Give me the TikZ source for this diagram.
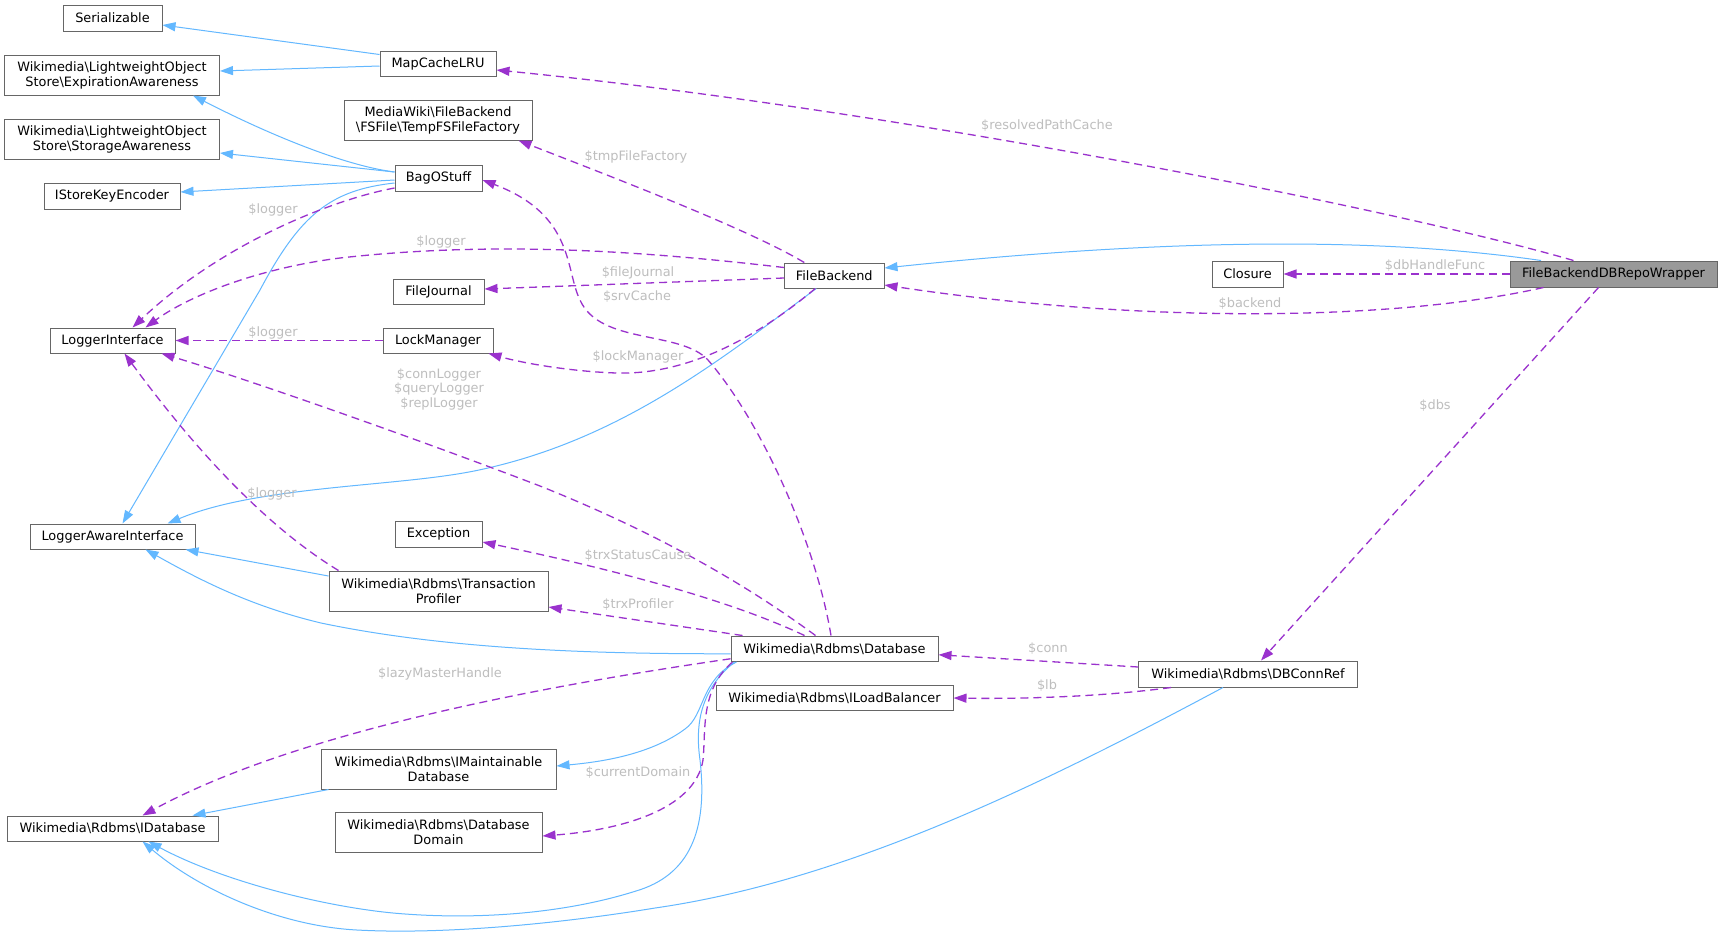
\documentclass[tikz,border=0pt]{standalone}
\usepackage{fontspec}
\setmainfont{DejaVu Sans}
\usetikzlibrary{arrows.meta,calc}
\definecolor{inhblue}{HTML}{63B8FF}
\definecolor{usepurple}{HTML}{9A32CD}
\definecolor{nodeborder}{HTML}{666666}
\definecolor{labelgray}{HTML}{BEBEBE}
\definecolor{mainfill}{HTML}{999999}
\newcommand{\BSl}{\textbackslash{}}
\begin{document}
\begin{tikzpicture}[x=1pt,y=-1pt,
  cls/.style={draw=nodeborder, line width=1pt, fill=white, inner sep=0pt, align=center,
    font=\fontsize{12.9}{15}\selectfont},
  inh/.style={draw=inhblue, line width=1pt, -{Triangle[length=13pt,width=9pt]}},
  use/.style={draw=usepurple, line width=1.3pt, dash pattern=on 8pt off 5pt,
    -{Triangle[length=13pt,width=9pt]}},
  lbl/.style={text=labelgray, inner sep=0pt, align=center,
    font=\fontsize{12.9}{14.5}\selectfont}
]
\fill[white] (0,0) rectangle (1723,938);
\useasboundingbox (0,0) rectangle (1723,938);

% nodes
\node[cls, minimum width=99pt, minimum height=26pt] (ser) at (112.5,18) {Serializable};
\node[cls, minimum width=215pt, minimum height=40pt] (expaw) at (112,75) {Wikimedia\BSl LightweightObject\\Store\BSl ExpirationAwareness};
\node[cls, minimum width=215pt, minimum height=40pt] (stoaw) at (112,139) {Wikimedia\BSl LightweightObject\\Store\BSl StorageAwareness};
\node[cls, minimum width=136pt, minimum height=26pt] (iske) at (112,196) {IStoreKeyEncoder};
\node[cls, minimum width=116pt, minimum height=25pt] (mapc) at (438,63.5) {MapCacheLRU};
\node[cls, minimum width=188pt, minimum height=40pt] (tmpfs) at (438,120) {MediaWiki\BSl FileBackend\\\BSl FSFile\BSl TempFSFileFactory};
\node[cls, minimum width=87pt, minimum height=26pt] (bag) at (438.5,178) {BagOStuff};
\node[cls, minimum width=125pt, minimum height=25pt] (logi) at (112.5,340.5) {LoggerInterface};
\node[cls, minimum width=91pt, minimum height=25pt] (fj) at (438.5,291.5) {FileJournal};
\node[cls, minimum width=110pt, minimum height=25pt] (lockm) at (438,340.5) {LockManager};
\node[cls, minimum width=165pt, minimum height=25pt] (lawi) at (112.5,536.5) {LoggerAwareInterface};
\node[cls, minimum width=87pt, minimum height=26pt] (exc) at (438.5,534) {Exception};
\node[cls, minimum width=219pt, minimum height=40pt] (tp) at (438.5,591) {Wikimedia\BSl Rdbms\BSl Transaction\\Profiler};
\node[cls, minimum width=235pt, minimum height=40pt] (imd) at (438.5,769) {Wikimedia\BSl Rdbms\BSl IMaintainable\\Database};
\node[cls, minimum width=211pt, minimum height=25pt] (idb) at (112.5,828.5) {Wikimedia\BSl Rdbms\BSl IDatabase};
\node[cls, minimum width=207pt, minimum height=40pt] (dbd) at (438.5,832) {Wikimedia\BSl Rdbms\BSl Database\\Domain};
\node[cls, minimum width=99.5pt, minimum height=25pt] (fb) at (834.25,275.5) {FileBackend};
\node[cls, minimum width=207pt, minimum height=25.5pt] (db) at (834.5,648.75) {Wikimedia\BSl Rdbms\BSl Database};
\node[cls, minimum width=237pt, minimum height=25.5pt] (ilb) at (834.5,698) {Wikimedia\BSl Rdbms\BSl ILoadBalancer};
\node[cls, minimum width=71pt, minimum height=26pt] (closure) at (1247.5,274) {Closure};
\node[cls, fill=mainfill, minimum width=207pt, minimum height=26pt] (wrap) at (1613.5,274) {FileBackendDBRepoWrapper};
\node[cls, minimum width=218.5pt, minimum height=26pt] (dbconn) at (1248,674) {Wikimedia\BSl Rdbms\BSl DBConnRef};

% inheritance edges
\draw[inh] ([yshift=9pt]mapc.west) -- ([yshift=-7pt]ser.east);
\draw[inh] ([yshift=-2.5pt]mapc.west) -- ([yshift=4pt]expaw.east);
\draw[inh] ([yshift=6pt]bag.west) .. controls (340,165) and (260,130) .. ([xshift=81pt]expaw.south);
\draw[inh] ([yshift=6pt]bag.west) -- ([yshift=-14pt]stoaw.east);
\draw[inh] ([yshift=-2pt]bag.west) -- ([yshift=4pt]iske.east);
\draw[inh] ([yshift=-5pt]bag.west) .. controls (330,190) and (300,215) .. (260,290) -- ([xshift=10pt]lawi.north);
\draw[inh] ([xshift=-18pt]fb.south) .. controls (720,360) and (620,440) .. (479,470)
   .. controls (400,487) and (260,485) .. ([xshift=55pt]lawi.north);
\draw[inh] ([yshift=15pt]tp.west) -- ([xshift=-10pt]lawi.south east);
\draw[inh] ([yshift=-5pt]db.west) .. controls (600,654) and (450,650) .. (321,623)
   .. controls (250,606) and (200,580) .. ([xshift=33pt]lawi.south);
\draw[inh] ([xshift=6pt]db.south west) .. controls (700,680) and (705,715) .. (685,729)
   .. controls (650,755) and (600,762) .. ([yshift=3pt]imd.east);
\draw[inh] ([xshift=8pt]imd.south west) -- ([xshift=80pt]idb.north);
\draw[inh] ([xshift=4pt]db.south west) .. controls (700,690) and (695,725) .. (700,760)
   .. controls (708,830) and (690,875) .. (636,891)
   .. controls (560,915) and (470,920) .. (393,913)
   .. controls (320,906) and (220,880) .. ([xshift=36pt]idb.south);
\draw[inh] ([xshift=-25pt]dbconn.south) .. controls (1050,780) and (850,880) .. (655,908)
   .. controls (570,922) and (450,935) .. (357,930)
   .. controls (280,926) and (200,890) .. ([xshift=30pt]idb.south);
\draw[inh] ([xshift=-72.5pt]wrap.north) .. controls (1400,240) and (1200,235) .. ([yshift=7.5pt]fb.east);

% usage edges
\draw[use] ([xshift=-40pt]wrap.north) .. controls (1400,210) and (900,110) .. ([yshift=-6.5pt]mapc.east);
\draw[use] ([xshift=-30pt]fb.north) .. controls (750,230) and (620,180) .. ([xshift=-14pt]tmpfs.south east);
\draw[use] ([xshift=-3.5pt]db.north) .. controls (815,540) and (760,420) .. (708,360)
   .. controls (680,330) and (600,345) .. (580,300)
   .. controls (565,270) and (575,215) .. ([yshift=-2pt]bag.east);
\draw[use] ([yshift=8pt]fb.west) .. controls (650,252) and (500,240) .. (340,258)
   .. controls (260,268) and (190,295) .. ([xshift=33pt]logi.north);
\draw[use] ([yshift=-10pt]bag.west) .. controls (330,200) and (220,245) .. ([xshift=20pt]logi.north);
\draw[use] ([yshift=-2.5pt]fb.west) -- ([yshift=2.5pt]fj.east);
\draw[use] (lockm.west) -- (logi.east);
\draw[use] ([xshift=-19pt]fb.south) .. controls (760,335) and (690,375) .. (617,373)
   .. controls (580,372) and (530,365) .. ([xshift=-5pt]lockm.south east);
\draw[use] ([xshift=-19pt]db.north) .. controls (740,580) and (650,530) .. (540,486)
   .. controls (420,440) and (250,380) .. ([xshift=-14pt]logi.south east);
\draw[use] ([xshift=10pt]tp.north west) .. controls (280,535) and (210,470) .. ([xshift=12pt]logi.south);
\draw[use] ([xshift=-30pt]db.north) .. controls (740,605) and (640,575) .. ([yshift=-8pt]exc.east);
\draw[use] ([xshift=12pt]db.north west) -- ([yshift=-16pt]tp.east);
\draw[use] ([yshift=-10pt]db.west) .. controls (550,685) and (300,730) .. ([xshift=30pt]idb.north);
\draw[use] ([xshift=2pt]db.south west) .. controls (700,690) and (706,730) .. (703,760)
   .. controls (695,810) and (620,830) .. ([yshift=-4pt]dbd.east);
\draw[use] ([yshift=7pt]dbconn.west) -- ([yshift=-6pt]db.east);
\draw[use] ([xshift=-77pt]dbconn.south) .. controls (1100,697) and (1020,699) .. (ilb.east);
\draw[use] (wrap.west) -- (closure.east);
\draw[use] ([xshift=-70pt]wrap.south) .. controls (1400,320) and (1150,325) .. ([yshift=-9.5pt]fb.east);
\draw[use] ([xshift=-15pt]wrap.south) -- ([xshift=13pt]dbconn.north);

% edge labels
\node[lbl] (l1) at (1047,126) {\$resolvedPathCache};
\node[lbl] (l2) at (636,157) {\$tmpFileFactory};
\node[lbl] (l3) at (1435,266) {\$dbHandleFunc};
\node[lbl] (l4) at (441,242) {\$logger};
\node[lbl] (l5) at (273,210) {\$logger};
\node[lbl] (l6) at (638,273) {\$fileJournal};
\node[lbl] (l7) at (637,297) {\$srvCache};
\node[lbl] (l8) at (1250,304) {\$backend};
\node[lbl] (l9) at (273,333) {\$logger};
\node[lbl] (l10) at (638,357) {\$lockManager};
\node[lbl] (l11) at (439,389) {\$connLogger\\\$queryLogger\\\$replLogger};
\node[lbl] (l12) at (1435,406) {\$dbs};
\node[lbl] (l13) at (272,494) {\$logger};
\node[lbl] (l14) at (638,556) {\$trxStatusCause};
\node[lbl] (l15) at (638,604.5) {\$trxProfiler};
\node[lbl] (l16) at (1048,648.5) {\$conn};
\node[lbl] (l17) at (440,674) {\$lazyMasterHandle};
\node[lbl] (l18) at (1047,685.5) {\$lb};
\node[lbl] (l19) at (638,773) {\$currentDomain};
\end{tikzpicture}
\end{document}
